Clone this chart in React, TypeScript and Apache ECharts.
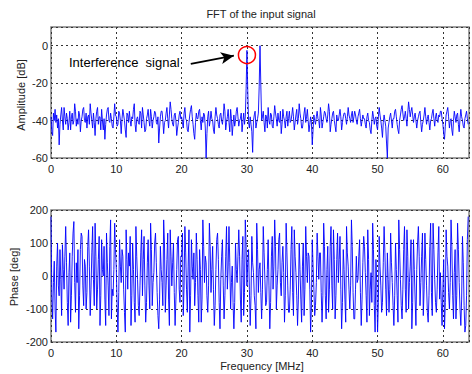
import React, { useEffect, useRef } from "react";
import * as echarts from "echarts";

const STEP_MHZ = 0.125;
const xTicks = [0, 10, 20, 30, 40, 50, 60];

const amplitudeDb = [
  -38,-46,-48,-36,-40,-34,-41,-37,-44,-39,-53,-42,-37,-33,-40,-45,
  -33,-38,-42,-36,-39,-45,-41,-35,-45,-38,-36,-42,-40,-31,-35,-43,
  -39,-42,-35,-37,-46,-40,-38,-34,-33,-40,-41,-36,-44,-38,-37,-42,
  -31,-36,-40,-44,-36,-41,-48,-39,-35,-33,-42,-38,-38,-45,-34,-40,
  -45,-39,-50,-42,-37,-34,-33,-40,-41,-36,-39,-43,-44,-38,-31,-37,
  -38,-43,-42,-35,-36,-40,-47,-39,-34,-37,-40,-45,-49,-36,-37,-41,
  -35,-40,-43,-38,-39,-34,-31,-42,-46,-39,-38,-41,-42,-35,-36,-44,
  -33,-37,-41,-46,-45,-39,-37,-34,-40,-43,-34,-38,-44,-40,-38,-35,
  -36,-41,-42,-38,-52,-44,-38,-35,-35,-40,-47,-41,-40,-36,-33,-39,
  -44,-37,-30,-34,-39,-42,-43,-37,-36,-40,-48,-44,-41,-37,-35,-39,
  -38,-41,-44,-36,-33,-39,-40,-45,-46,-41,-37,-34,-32,-38,-42,-47,
  -50,-41,-36,-39,-39,-35,-34,-40,-45,-38,-41,-36,-37,-44,-60,-47,
  -38,-35,-43,-40,-35,-39,-40,-45,-47,-38,-33,-37,-39,-42,-44,-37,
  -36,-40,-42,-38,-31,-35,-45,-41,-38,-34,-41,-46,-34,-39,-48,-42,
  -37,-43,-40,-35,-33,-38,-43,-40,-39,-36,-46,-41,-36,-42,-38,-23,
  -2.5,-24,-41,-44,-38,-42,-46,-57,-40,-37,-35,-44,-41,-39,-36,-22,
  0,-21,-40,-38,-35,-41,-46,-37,-38,-44,-33,-40,-42,-36,-37,-43,
  -44,-38,-32,-36,-39,-43,-36,-40,-41,-35,-47,-42,-34,-38,-40,-44,
  -38,-35,-43,-39,-35,-41,-40,-37,-33,-38,-45,-41,-37,-34,-42,-39,
  -31,-36,-39,-44,-44,-40,-36,-33,-41,-38,-34,-40,-46,-42,-38,-41,
  -53,-45,-37,-40,-42,-38,-35,-39,-40,-44,-33,-37,-44,-41,-38,-35,
  -36,-39,-41,-37,-31,-35,-46,-42,-39,-36,-35,-40,-43,-46,-37,-40,
  -40,-37,-34,-38,-45,-41,-38,-36,-36,-39,-42,-38,-33,-37,-39,-41,
  -37,-35,-41,-38,-35,-37,-40,-42,-38,-36,-34,-39,-43,-40,-37,-39,
  -39,-42,-44,-38,-36,-40,-41,-45,-47,-40,-35,-38,-42,-39,-38,-43,
  -45,-38,-33,-37,-40,-44,-49,-41,-37,-40,-43,-52,-60,-44,-41,-38,
  -36,-40,-44,-39,-39,-35,-34,-38,-42,-45,-47,-40,-37,-34,-32,-36,
  -40,-38,-35,-39,-43,-36,-30,-34,-38,-35,-33,-37,-41,-38,-36,-40,
  -44,-40,-38,-36,-35,-41,-46,-42,-40,-37,-33,-38,-42,-39,-37,-41,
  -45,-40,-39,-36,-34,-39,-43,-38,-36,-40,-41,-37,-38,-35,-35,-39,
  -42,-47,-50,-43,-37,-35,-33,-38,-44,-40,-39,-45,-48,-40,-35,-38,
  -41,-37,-36,-42,-46,-39,-34,-38,-40,-43,-44,-39,-37,-35,-39,-42,
];

const phaseDeg = [
  180,-60,-130,-20,45,-100,-170,30,100,-30,-60,80,-10,-120,95,20,
  -40,60,150,40,-80,-150,10,70,-140,-60,60,130,165,-20,-110,40,
  -20,80,-160,-60,80,130,120,-30,-90,50,30,-100,-50,90,140,30,
  -120,-40,70,150,-10,-90,160,60,-100,-40,50,120,-150,-60,110,20,
  0,90,-70,-150,130,40,-30,-120,90,170,-130,-40,-60,20,160,80,
  20,-90,-170,-50,110,30,-20,80,60,-40,-110,-170,140,50,-40,70,
  30,120,-150,-60,100,20,-80,-140,150,60,-10,-90,-120,-30,70,140,
  -60,50,120,-30,-140,-80,40,110,-30,-100,160,80,-90,-20,10,100,
  130,40,-50,-120,-160,-70,90,20,-20,-90,170,100,-110,-30,50,130,
  -70,-150,140,60,-30,40,100,-50,-150,-70,20,110,120,-40,-80,60,
  60,130,-120,-30,150,70,-40,-110,30,140,-170,-60,110,30,-10,70,
  -90,-20,130,50,-60,-140,80,20,-140,-70,170,90,-20,60,40,-60,
  -110,-30,160,90,-50,20,90,-40,-150,-90,20,110,130,50,-80,-160,
  -10,60,110,-30,-130,-60,60,150,-40,30,150,40,-100,-20,30,-80,
  -160,-80,100,20,-20,60,140,60,-70,-140,50,120,-120,-50,170,90,
  -30,40,80,-40,-150,-60,120,40,10,-60,-90,-160,160,80,-50,20,
  40,-50,-130,-40,150,70,-10,-90,-80,20,110,-30,-160,-80,60,120,
  -40,30,170,90,-100,-30,20,110,130,-20,-60,40,90,10,-140,-60,
  160,70,-30,-110,-110,-40,80,150,-50,-120,140,60,10,-60,-150,-70,
  100,20,-70,-140,30,100,-120,-40,150,60,-20,70,60,-40,-170,-90,
  110,30,-40,-120,-90,-20,130,60,-10,70,70,-50,-140,-60,160,90,
  -60,-130,20,90,-110,-40,90,150,-30,-100,140,50,-130,-60,50,130,
  -20,50,120,-40,-160,-80,80,20,-70,-140,150,70,30,-40,-100,-30,
  170,90,-50,-130,-130,-40,60,-20,-10,60,110,-50,-150,-70,40,120,
  90,10,-60,-140,140,50,-120,-40,10,-80,160,80,-90,-170,50,-20,
  -170,-80,120,30,-30,-110,-80,40,150,70,-40,-120,70,-10,-110,-40,
  130,40,-20,-90,-150,-60,100,20,-60,-140,170,80,-10,-90,-130,-40,
  80,150,-40,-110,140,60,-100,-20,30,110,-160,-80,110,20,-70,-150,
  20,100,150,60,-90,-20,60,130,-120,-40,130,50,-30,-110,-140,-60,
  90,160,-50,-120,160,80,-10,-80,-110,-40,70,150,-70,10,-80,-150,
  -40,50,-160,-80,140,60,30,-50,-100,-20,170,90,-60,-130,10,80,
  -130,-60,160,80,-20,-100,-150,-70,120,40,-90,-170,-150,-60,110,180,
];

const TEXT = "#222";
const FONT = "Liberation Sans, Arial, sans-serif";

export default function App() {
  const ref = useRef<HTMLDivElement>(null);
  useEffect(() => {
    if (!ref.current) return;
    const chart = echarts.init(ref.current, null, { renderer: "svg" });
    const split = { show: true, lineStyle: { color: "#333", type: [2, 3], width: 1 } };
    const xAxisBase = {
      type: "value",
      min: 0,
      max: 64,
      interval: 10,
      axisLine: { show: false },
      axisTick: { show: false },
      splitLine: split,
      axisLabel: {
        color: TEXT,
        fontFamily: FONT,
        fontSize: 11,
        margin: 5,
        formatter: (v: number) => (xTicks.includes(v) ? String(v) : ""),
      },
    };
    chart.setOption({
      animation: false,
      backgroundColor: "#fff",
      textStyle: { fontFamily: FONT },
      grid: [
        { left: 51, top: 27, width: 424, height: 131, show: true, borderColor: "#808080", borderWidth: 1.5, backgroundColor: "transparent" },
        { left: 51, top: 210, width: 424, height: 132, show: true, borderColor: "#808080", borderWidth: 1.5, backgroundColor: "transparent" },
      ],
      xAxis: [
        { ...xAxisBase, gridIndex: 0 },
        { ...xAxisBase, gridIndex: 1 },
      ],
      yAxis: [
        {
          type: "value",
          gridIndex: 0,
          min: -60,
          max: 10,
          interval: 20,
          axisLine: { show: false },
          axisTick: { show: false },
          splitLine: split,
          axisLabel: {
            color: TEXT,
            fontFamily: FONT,
            fontSize: 11,
            margin: 3,
            formatter: (v: number) => (v <= 0 ? String(v) : ""),
          },
        },
        {
          type: "value",
          gridIndex: 1,
          min: -200,
          max: 200,
          interval: 100,
          axisLine: { show: false },
          axisTick: { show: false },
          splitLine: split,
          axisLabel: { color: TEXT, fontFamily: FONT, fontSize: 11, margin: 3 },
        },
      ],
      series: [
        {
          type: "line",
          xAxisIndex: 0,
          yAxisIndex: 0,
          data: amplitudeDb.map((v, i) => [i * STEP_MHZ, v]),
          symbol: "none",
          lineStyle: { color: "#0000ff", width: 0.9 },
          markPoint: {
            symbol: "circle",
            symbolSize: 17,
            silent: true,
            data: [{ coord: [30, -5] }],
            itemStyle: { color: "rgba(0,0,0,0)", borderColor: "#ff0000", borderWidth: 1.5 },
            label: { show: false },
          },
          markLine: {
            silent: true,
            symbol: ["none", "arrow"],
            symbolSize: [9, 13],
            label: { show: false },
            lineStyle: { color: "#000", width: 2, type: "solid" },
            data: [[{ coord: [21.4, -9.7] }, { coord: [28.0, -5.3] }]],
          },
        },
        {
          type: "line",
          xAxisIndex: 1,
          yAxisIndex: 1,
          data: phaseDeg.map((v, i) => [i * STEP_MHZ, v]),
          symbol: "none",
          lineStyle: { color: "#0000ff", width: 0.9 },
        },
      ],
      graphic: [
        {
          type: "text",
          x: 261,
          y: 14,
          style: { text: "FFT of the input signal", fill: TEXT, font: `11px ${FONT}`, textAlign: "center", textVerticalAlign: "middle" },
        },
        {
          type: "text",
          x: 69,
          y: 62,
          style: { text: "Interference  signal", fill: "#000", font: `13px ${FONT}`, textAlign: "left", textVerticalAlign: "middle" },
        },
        {
          type: "text",
          x: 21,
          y: 95,
          rotation: Math.PI / 2,
          style: { text: "Amplitude [dB]", fill: TEXT, font: `11px ${FONT}`, textAlign: "center", textVerticalAlign: "middle" },
        },
        {
          type: "text",
          x: 14,
          y: 277,
          rotation: Math.PI / 2,
          style: { text: "Phase [deg]", fill: TEXT, font: `11px ${FONT}`, textAlign: "center", textVerticalAlign: "middle" },
        },
        {
          type: "text",
          x: 262,
          y: 366,
          style: { text: "Frequency [MHz]", fill: TEXT, font: `11px ${FONT}`, textAlign: "center", textVerticalAlign: "middle" },
        },
      ],
    });
    return () => chart.dispose();
  }, []);
  return <div ref={ref} style={{ position: "fixed", left: 0, top: 0, width: 472, height: 374 }} />;
}
